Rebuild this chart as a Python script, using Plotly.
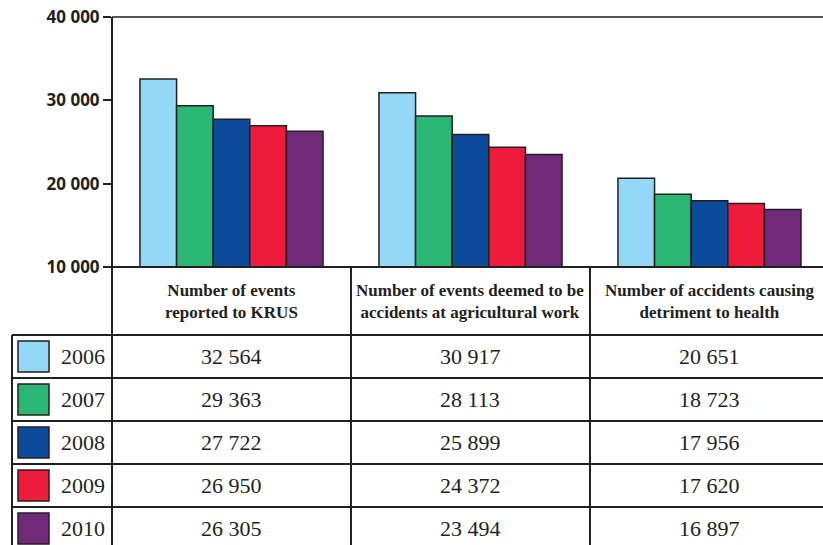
import plotly.graph_objects as go

# data
categories = ['Number of events<br>reported to KRUS',
              'Number of events deemed to be<br>accidents at agricultural work',
              'Number of accidents causing<br>detriment to health']
years = ['2006', '2007', '2008', '2009', '2010']
values = {
    '2006': [32564, 30917, 20651],
    '2007': [29363, 28113, 18723],
    '2008': [27722, 25899, 17956],
    '2009': [26950, 24372, 17620],
    '2010': [26305, 23494, 16897],
}
colors = ['#94d7f6', '#2bb673', '#0c4a9c', '#ee1b3b', '#71297a']
y_ticks = [10000, 20000, 30000, 40000]

W, H = 823, 545
INK = '#231f20'


def px(x):
    return x / W


def py(y):
    return 1 - y / H


def fmt(v):
    return f'{v:,}'.replace(',', ' ')


fig = go.Figure()

for year, color in zip(years, colors):
    fig.add_trace(
        go.Bar(
            x = [0, 1, 2],
            y = values[year],
            name = year,
            marker = {
                'color': color,
                'line': {'color': INK, 'width': 1.5}
            },
            hoverinfo = 'skip'
        )
    )

shapes = []
line = {'color': INK, 'width': 2}

# frame of the chart and table grid
shapes.append(dict(type='line', xref='paper', yref='paper',
                   x0=px(112), x1=1, y0=py(17), y1=py(17),
                   line={'color': '#555555', 'width': 2}))
shapes.append(dict(type='line', xref='paper', yref='paper',
                   x0=px(112), x1=px(112), y0=py(17), y1=0, line=line))
shapes.append(dict(type='line', xref='paper', yref='paper',
                   x0=px(112), x1=1, y0=py(267), y1=py(267), line=line))
for cx in [0.5, 1.5]:
    shapes.append(dict(type='line', xref='x', yref='paper',
                       x0=cx, x1=cx, y0=py(267), y1=0, line=line))
shapes.append(dict(type='line', xref='paper', yref='paper',
                   x0=px(12), x1=px(12), y0=py(335), y1=0, line=line))

row_tops = [335, 378, 421, 464, 507]
row_h = 43
for top in row_tops:
    shapes.append(dict(type='line', xref='paper', yref='paper',
                       x0=px(12), x1=1, y0=py(top), y1=py(top), line=line))

annotations = []
for i, cat in enumerate(categories):
    annotations.append(dict(
        x=i, y=py(301), xref='x', yref='paper', text=cat, showarrow=False,
        font={'family': 'Liberation Serif', 'size': 17, 'color': INK, 'weight': 'bold'},
        align='center', xanchor='center', yanchor='middle'))

for year, color, top in zip(years, colors, row_tops):
    mid = top + row_h / 2
    shapes.append(dict(type='rect', xref='paper', yref='paper',
                       x0=px(18), x1=px(49), y0=py(top + 6), y1=py(top + 37),
                       fillcolor=color, line={'color': INK, 'width': 1.5}))
    annotations.append(dict(
        x=px(107), y=py(mid), xref='paper', yref='paper', text=year, showarrow=False,
        font={'family': 'Liberation Serif', 'size': 22, 'color': INK},
        xanchor='right', yanchor='middle'))
    for i, v in enumerate(values[year]):
        annotations.append(dict(
            x=i, y=py(mid), xref='x', yref='paper', text=fmt(v), showarrow=False,
            font={'family': 'Liberation Serif', 'size': 22, 'color': INK},
            xanchor='center', yanchor='middle'))

fig.update_layout(
    width=W, height=H,
    margin={'l': 0, 'r': 0, 't': 0, 'b': 0, 'pad': 0, 'autoexpand': False},
    paper_bgcolor='white', plot_bgcolor='white',
    showlegend=False,
    barmode='group', bargap=0.234, bargroupgap=0,
    separators='. ',
    xaxis={'domain': [px(112), 1], 'range': [-0.5, 2.475],
           'showticklabels': False, 'showgrid': False, 'zeroline': False,
           'showline': False, 'ticks': ''},
    yaxis={'domain': [py(267), py(17)], 'range': [10000, 40000],
           'tickvals': y_ticks, 'tickformat': ',', 'ticks': 'outside',
           'ticklen': 8, 'tickwidth': 2, 'tickcolor': INK,
           'showgrid': False, 'zeroline': False, 'showline': False,
           'tickfont': {'family': 'Open Sans', 'size': 17, 'color': INK, 'weight': 'bold'}},
    shapes=shapes,
    annotations=annotations,
)

fig.write_html('out.html',
               config={'displayModeBar': False, 'staticPlot': True},
               post_script="document.body.style.margin='0';document.body.style.overflow='hidden';")
